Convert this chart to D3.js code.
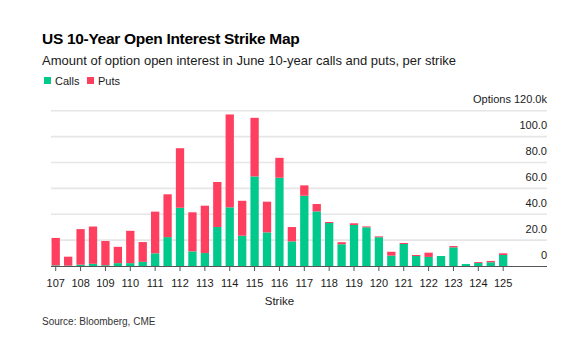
<!DOCTYPE html>
<html>
<head>
<meta charset="utf-8">
<script src="https://cdn.jsdelivr.net/npm/d3@7"></script>
<style>
  html, body { margin: 0; padding: 0; background: #fff; }
  svg { display: block; font-family: "Liberation Sans", Arial, sans-serif; }
</style>
</head>
<body>
<svg id="chart" width="580" height="338"></svg>
<script>
const strikes = ["107","107.5","108","108.5","109","109.5","110","110.5","111","111.5","112","112.5","113","113.5","114","114.5","115","115.5","116","116.5","117","117.5","118","118.5","119","119.5","120","120.5","121","121.5","122","122.5","123","123.5","124","124.5","125"];
const calls = [0.5,0.3,1.0,1.7,0.6,2.2,2.2,3.2,9.8,22.3,45.0,11.3,10.0,30.1,45.3,23.4,69.2,26.0,68.2,19.0,54.3,42.2,33.2,16.8,31.7,29.9,22.2,8.0,17.0,7.7,7.0,7.7,14.4,1.5,2.3,2.9,8.5];
const puts  = [21.2,6.9,27.5,28.8,18.7,12.6,25.0,15.3,32.2,33.1,46.0,30.2,36.6,34.8,71.8,27.0,45.3,23.7,15.4,11.1,8.0,5.7,0.8,1.6,1.3,0.7,0.7,3.0,0.8,0.8,3.3,0.0,1.0,0.0,0.7,1.0,1.3];
const yTicks = [0,20,40,60,80,100,120];
const seriesNames = ["Calls","Puts"];
const colors = ["#00c98b","#ff3f5f"];

const svg = d3.select("#chart");

// Titles
svg.append("text").attr("x",42).attr("y",44)
  .attr("font-size",15.5).attr("font-weight","bold").attr("fill","#000")
  .attr("letter-spacing",-0.3)
  .text("US 10-Year Open Interest Strike Map");
svg.append("text").attr("x",42).attr("y",65)
  .attr("font-size",13).attr("fill","#1a1a1a")
  .text("Amount of option open interest in June 10-year calls and puts, per strike");

// Legend
const leg = svg.append("g");
const legX = [44, 87];
seriesNames.forEach((n,i)=>{
  leg.append("rect").attr("x",legX[i]).attr("y",77).attr("width",7).attr("height",7).attr("fill",colors[i]);
  leg.append("text").attr("x",legX[i]+11).attr("y",84.5).attr("font-size",11).attr("fill","#1a1a1a").text(n);
});

// Scales
const x = d3.scaleBand().domain(strikes).range([49.5, 509.4]).paddingInner(0.332).paddingOuter(0.166);
const y = d3.scaleLinear().domain([0,120]).range([266,110.7]);
const gridX0 = 51, gridX1 = 547;

// Gridlines
svg.append("g").selectAll("line").data(yTicks.filter(d=>d>0)).join("line")
  .attr("x1",gridX0).attr("x2",gridX1)
  .attr("y1",d=>y(d)).attr("y2",d=>y(d))
  .attr("stroke","#e6e6e6").attr("stroke-width",1.6);

// Y labels
svg.append("g").selectAll("text").data(yTicks).join("text")
  .attr("x",gridX1).attr("y",d=>y(d)-7.5)
  .attr("text-anchor","end").attr("font-size",11).attr("fill","#1a1a1a")
  .text(d=> d===0 ? "0" : (d===120 ? "Options 120.0k" : d.toFixed(1)));

// Stacked bars
const rows = strikes.map((s,i)=>({strike:s, Calls:calls[i], Puts:puts[i]}));
const stack = d3.stack().keys(seriesNames)(rows);
svg.append("g").selectAll("g").data(stack).join("g")
  .attr("fill",(d,i)=>colors[i])
  .selectAll("rect").data(d=>d).join("rect")
  .attr("x",d=>x(d.data.strike))
  .attr("width",x.bandwidth())
  .attr("y",d=>y(d[1]))
  .attr("height",d=>Math.max(0,y(d[0])-y(d[1])));

// Baseline
svg.append("line").attr("x1",gridX0).attr("x2",gridX1)
  .attr("y1",y(0)+0.5).attr("y2",y(0)+0.5)
  .attr("stroke","#555").attr("stroke-width",1);

// X axis ticks at integer strikes
const intStrikes = strikes.filter(s=>!s.includes("."));
const xa = svg.append("g");
xa.selectAll("line").data(intStrikes).join("line")
  .attr("x1",d=>x(d)+x.bandwidth()/2).attr("x2",d=>x(d)+x.bandwidth()/2)
  .attr("y1",y(0)).attr("y2",y(0)+5)
  .attr("stroke","#555").attr("stroke-width",1);
xa.selectAll("text").data(intStrikes).join("text")
  .attr("x",d=>x(d)+x.bandwidth()/2).attr("y",287)
  .attr("text-anchor","middle").attr("font-size",11).attr("fill","#1a1a1a")
  .text(d=>d);

svg.append("text").attr("x",(x("107")+x("125")+x.bandwidth())/2).attr("y",304.5)
  .attr("text-anchor","middle").attr("font-size",11.5).attr("fill","#1a1a1a").text("Strike");

svg.append("text").attr("x",42).attr("y",324.5)
  .attr("font-size",10).attr("fill","#333").text("Source: Bloomberg, CME");
</script>
</body>
</html>
